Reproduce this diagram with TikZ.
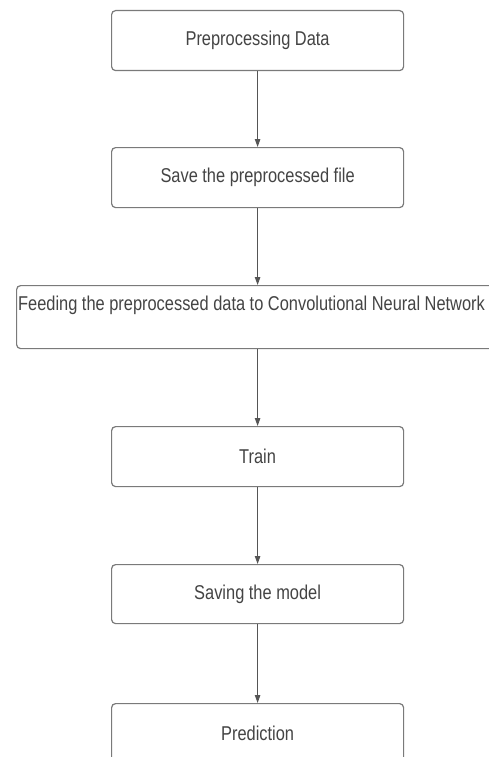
\documentclass[tikz,border=0pt]{standalone}
\usepackage{fontspec}
\setmainfont[FakeStretch=0.82]{Liberation Sans}
\usetikzlibrary{arrows.meta}
\definecolor{boxline}{HTML}{7A7A7A}
\definecolor{txt}{HTML}{444444}
\definecolor{arrline}{HTML}{555555}
\begin{document}
\begin{tikzpicture}[x=1pt,y=1pt,
  stepbox/.style={draw=boxline, line width=1.2pt, rounded corners=4pt, fill=white,
    minimum width=292pt, minimum height=60pt, inner sep=0pt, anchor=north west,
    text=txt, font=\fontsize{20}{24}\selectfont},
  lbl/.style={text=txt, font=\fontsize{20}{24}\selectfont, inner sep=0pt},
  arr/.style={draw=arrline, line width=0.9pt, -{Triangle[length=8pt,width=5.5pt]}}]
\useasboundingbox (0,0) rectangle (489,-757);
\clip (0,0) rectangle (489,-757);
\node[stepbox] (b1) at (111,-10) {Preprocessing Data};
\node[stepbox] (b2) at (111,-147) {Save the preprocessed file};
\node[stepbox, minimum width=520pt, minimum height=63pt] (b3) at (16,-285) {};
\node[lbl, anchor=west] (t3) at (18,-305) {Feeding the preprocessed data to Convolutional Neural Network};
\node[stepbox] (b4) at (111,-426) {Train};
\node[stepbox, minimum height=59pt] (b5) at (111,-564) {Saving the model};
\node[stepbox, minimum height=60pt] (b6) at (111,-703) {Prediction};
\draw[arr] (b1.south) -- (b2.north);
\draw[arr] (b2.south) -- (b2.south |- b3.north);
\draw[arr] (b4.north |- b3.south) -- (b4.north);
\draw[arr] (b4.south) -- (b5.north);
\draw[arr] (b5.south) -- (b6.north);
\end{tikzpicture}
\end{document}
